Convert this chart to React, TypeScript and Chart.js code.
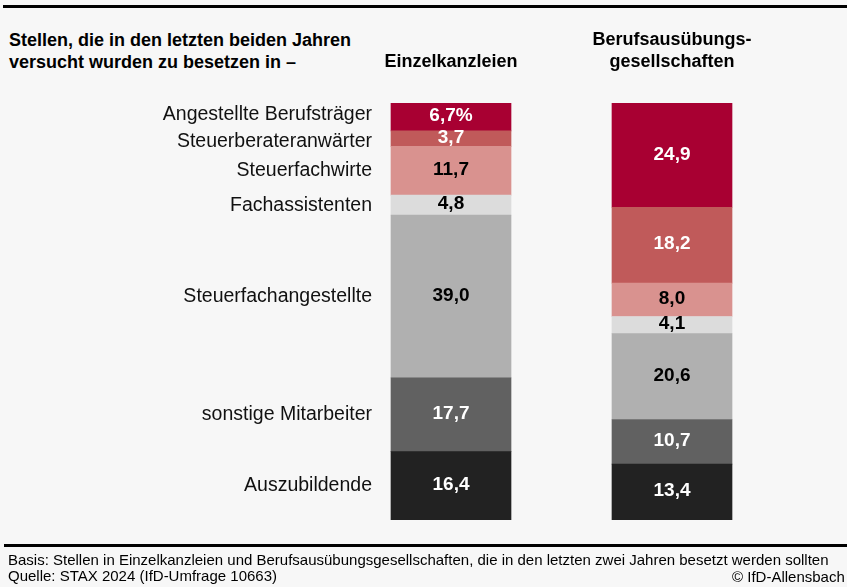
import React, { useEffect, useRef } from "react";
import { Chart, registerables } from "chart.js";

Chart.register(...registerables);

// ---- data ----
const categories = ["Einzelkanzleien", "Berufsausübungsgesellschaften"];
const headerLines = [["Einzelkanzleien"], ["Berufsausübungs-", "gesellschaften"]];
const segmentLabels = [
  "Angestellte Berufsträger",
  "Steuerberateranwärter",
  "Steuerfachwirte",
  "Fachassistenten",
  "Steuerfachangestellte",
  "sonstige Mitarbeiter",
  "Auszubildende",
];
const einzelkanzleien = [6.7, 3.7, 11.7, 4.8, 39.0, 17.7, 16.4];
const berufsausuebungsgesellschaften = [24.9, 18.2, 8.0, 4.1, 20.6, 10.7, 13.4];
const segmentColors = ["#a80032", "#c05a5a", "#d9928f", "#dcdcdc", "#b0b0b0", "#616161", "#222222"];

const titleLines = ["Stellen, die in den letzten beiden Jahren", "versucht wurden zu besetzen in –"];
const footerLines = [
  "Basis: Stellen in Einzelkanzleien und Berufsausübungsgesellschaften, die in den letzten zwei Jahren besetzt werden sollten",
  "Quelle: STAX 2024 (IfD-Umfrage 10663)",
];
const copyright = "© IfD-Allensbach";

const FONT = '"Liberation Sans", Arial, Helvetica, sans-serif';

function isDark(hex: string) {
  const r = parseInt(hex.slice(1, 3), 16);
  const g = parseInt(hex.slice(3, 5), 16);
  const b = parseInt(hex.slice(5, 7), 16);
  return 0.299 * r + 0.587 * g + 0.114 * b < 140;
}

function fmt(v: number) {
  return v.toFixed(1).replace(".", ",");
}

const labelPlugin = {
  id: "labelPlugin",
  afterDatasetsDraw(chart: any) {
    const ctx = chart.ctx as CanvasRenderingContext2D;
    const n = segmentLabels.length;
    ctx.save();
    // value labels
    ctx.font = `bold 19px ${FONT}`;
    ctx.textAlign = "center";
    ctx.textBaseline = "middle";
    const firstCenters: number[] = new Array(n).fill(0);
    let firstLeft = 0;
    chart.data.datasets.forEach((ds: any, d: number) => {
      const segIdx = ds.segIndex as number;
      const meta = chart.getDatasetMeta(d);
      meta.data.forEach((bar: any, j: number) => {
        const p = bar.getProps(["x", "y", "base", "width"], true);
        const cy = (p.y + p.base) / 2;
        const v = ds.data[j] as number;
        const txt = fmt(v) + (segIdx === 0 && j === 0 ? "%" : "");
        ctx.fillStyle = isDark(segmentColors[segIdx]) ? "#ffffff" : "#000000";
        ctx.fillText(txt, p.x, cy - 1);
        if (j === 0) {
          firstCenters[segIdx] = cy;
          firstLeft = p.x - p.width / 2;
        }
      });
    });
    // category labels, left of first bar, with simple collision avoidance
    const pos = firstCenters.slice();
    const minGap = 27;
    for (let iter = 0; iter < 20; iter++) {
      for (let i = 0; i < n - 1; i++) {
        const gap = pos[i + 1] - pos[i];
        if (gap < minGap) {
          const push = (minGap - gap) / 2;
          pos[i] -= push;
          pos[i + 1] += push;
        }
      }
    }
    ctx.font = `19.5px ${FONT}`;
    ctx.textAlign = "right";
    ctx.fillStyle = "#111111";
    segmentLabels.forEach((lab, i) => {
      ctx.fillText(lab, firstLeft - 19, pos[i]);
    });
    // column headers
    ctx.font = `bold 18px ${FONT}`;
    ctx.textAlign = "center";
    ctx.textBaseline = "alphabetic";
    ctx.fillStyle = "#000000";
    const meta0 = chart.getDatasetMeta(0);
    headerLines.forEach((lines, j) => {
      const x = meta0.data[j].x;
      const m = lines.length;
      lines.forEach((ln, k) => {
        ctx.fillText(ln, x, 67 - (m - 1 - k) * 22);
      });
    });
    ctx.restore();
  },
};

export default function App() {
  const ref = useRef<HTMLCanvasElement | null>(null);
  useEffect(() => {
    if (!ref.current) return;
    const datasets = segmentLabels
      .map((s, i) => ({
        label: s,
        segIndex: i,
        data: [einzelkanzleien[i], berufsausuebungsgesellschaften[i]],
        backgroundColor: segmentColors[i],
        borderWidth: 0,
        barThickness: 120,
      }))
      .reverse();
    const chart = new Chart(ref.current, {
      type: "bar",
      data: { labels: categories, datasets: datasets as any },
      options: {
        animation: false,
        responsive: false,
        maintainAspectRatio: false,
        layout: { padding: { left: 340.5, right: 64.5, top: 103, bottom: 67 } },
        plugins: { legend: { display: false }, tooltip: { enabled: false } },
        scales: {
          x: { stacked: true, display: false },
          y: { stacked: true, display: false, min: 0, max: 100 },
        },
      },
      plugins: [labelPlugin],
    });
    return () => chart.destroy();
  }, []);

  return (
    <div
      style={{
        position: "absolute",
        left: 0,
        top: 0,
        width: 847,
        height: 587,
        background: "#f7f7f7",
        overflow: "hidden",
        fontFamily: FONT,
        color: "#000",
      }}
    >
      <div style={{ position: "absolute", left: 3, top: 5, width: 844, height: 3, background: "#000" }} />
      <div style={{ position: "absolute", left: 9, top: 29, fontWeight: "bold", fontSize: 18, lineHeight: "22px", whiteSpace: "nowrap" }}>
        {titleLines.map((t, i) => (
          <div key={i}>{t}</div>
        ))}
      </div>
      <canvas ref={ref} width={847} height={587} style={{ position: "absolute", left: 0, top: 0, width: 847, height: 587 }} />
      <div style={{ position: "absolute", left: 4, top: 544, width: 843, height: 2.5, background: "#000" }} />
      <div style={{ position: "absolute", left: 8, top: 551.5, fontSize: 15, lineHeight: "16px", whiteSpace: "nowrap" }}>
        {footerLines.map((t, i) => (
          <div key={i}>{t}</div>
        ))}
      </div>
      <div style={{ position: "absolute", left: 732, top: 569, fontSize: 15, lineHeight: "16px", whiteSpace: "nowrap" }}>
        {copyright}
      </div>
    </div>
  );
}
